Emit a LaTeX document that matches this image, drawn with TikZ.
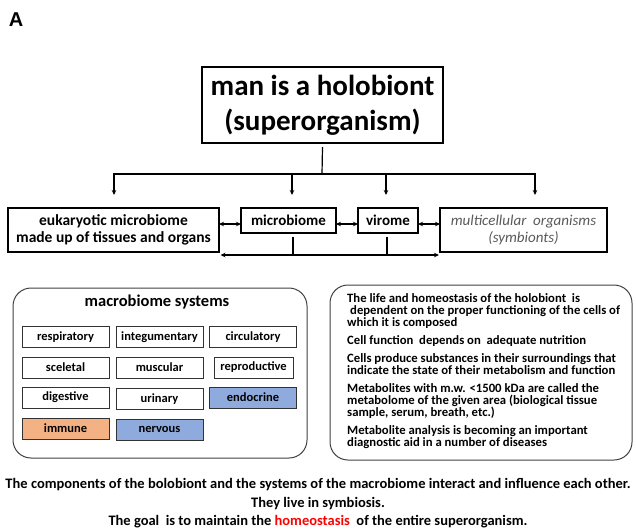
\documentclass[tikz,border=0pt]{standalone}
\usepackage{fontspec}
\setmainfont{Carlito}
\newfontfamily\panelfont{Liberation Sans}
\usetikzlibrary{arrows.meta}
\definecolor{sysblue}{HTML}{8FAADC}
\definecolor{sysorange}{HTML}{F4B183}
\newcommand{\arrowtip}{Stealth[length=5pt, width=4.5pt]}
\tikzstyle{box}=[draw, line width=1.8pt, inner sep=0, outer sep=0, align=center]
\tikzstyle{sysbox}=[draw=black!80, line width=1pt, minimum width=87pt, minimum height=21pt, inner sep=0,
                    font=\fontsize{12.5}{13}\selectfont\bfseries]
\tikzstyle{panel}=[draw=black!75, line width=1pt, rounded corners=18pt, inner sep=0]
\tikzstyle{link}=[line width=1.2pt]
\tikzstyle{arr}=[link, -{\arrowtip}]
\tikzstyle{biarr}=[link, {\arrowtip}-{\arrowtip}]

\begin{document}
\begin{tikzpicture}[x=1pt, y=-1pt]
        \useasboundingbox (0,0) rectangle (636,528);
        \node[font=\panelfont\fontsize{20}{20}\selectfont\bfseries] (panelA) at (16,20) {A};
        % holobiont and its components
        \node[box, line width=2pt, minimum width=241pt, minimum height=76pt,
              font=\fontsize{29}{35}\selectfont\bfseries] (holobiont) at (322.5,105) {man is a holobiont\\(superorganism)};
        \node[box, minimum width=211pt, minimum height=44pt,
              font=\fontsize{15.5}{17}\selectfont\bfseries] (eukaryotic) at (113.5,230) {eukaryotic microbiome\\made up of tissues and organs};
        \node[box, minimum width=95pt, minimum height=25pt,
              font=\fontsize{15}{17}\selectfont\bfseries] (microbiome) at (288.5,220.5) {microbiome};
        \node[box, minimum width=60pt, minimum height=25pt,
              font=\fontsize{15}{17}\selectfont\bfseries] (virome) at (388,220.5) {virome};
        \node[box, minimum width=167pt, minimum height=44pt, text=black!65,
              font=\fontsize{15}{17}\selectfont\itshape] (symbionts) at (523.5,230) {multicellular~~organisms\\(symbionts)};
        \coordinate (split) at (322,174);
        \coordinate (eukin) at (114,195);
        \coordinate (micin) at (292,195);
        \coordinate (virin) at (386,195);
        \coordinate (symin) at (535,195);
        \coordinate (pair) at (0,224);
        \coordinate (bus) at (0,255);
        \draw[link] ([yshift=-4pt]holobiont.south) -- (split);
        \draw[arr] (split) -| (eukin);
        \draw[arr] (split) -| (micin);
        \draw[arr] (split) -| (virin);
        \draw[arr] (split) -| (symin);
        \draw[biarr] (eukaryotic.east |- pair) -- (microbiome.west |- pair);
        \draw[biarr] (microbiome.east |- pair) -- (virome.west |- pair);
        \draw[biarr] (virome.east |- pair) -- (symbionts.west |- pair);
        \draw[biarr, shorten <=1.5pt, shorten >=1pt] (eukaryotic.east |- bus) -- (symbionts.west |- bus);
        \draw[link] ([xshift=4.5pt, yshift=-4pt]microbiome.south) -- ([xshift=4.5pt]microbiome.south |- bus);
        \draw[link] ([xshift=-1pt, yshift=-4pt]virome.south) -- ([xshift=-1pt]virome.south |- bus);
        % macrobiome systems
        \node[panel, minimum width=294pt, minimum height=170pt] (macro) at (160,373) {};
        \node[font=\fontsize{16.5}{18}\selectfont\bfseries] (macrotitle) at (157,302) {macrobiome systems};
        \node[sysbox] (resp) at (65.5,337) {respiratory};
        \node[sysbox] (integ) at (159.5,337) {integumentary};
        \node[sysbox] (circ) at (253,337) {circulatory};
        \node[sysbox] (skel) at (65.5,367.5) {sceletal};
        \node[sysbox] (musc) at (159.5,367.5) {muscular};
        \node[sysbox, minimum width=79pt] (repro) at (253.5,367.5) {reproductive};
        \node[sysbox] (dig) at (65.5,397.5) {digestive};
        \node[sysbox] (urin) at (159.5,399) {urinary};
        \node[sysbox, fill=sysblue] (endo) at (253,397.5) {endocrine};
        \node[sysbox, fill=sysorange] (immu) at (65.5,428.5) {immune};
        \node[sysbox, fill=sysblue] (nerv) at (159.5,429.5) {nervous};
        % cells and metabolome
        \node[panel, minimum width=302pt, minimum height=175pt] (cells) at (481,372.5) {};
        \node[anchor=north west, align=left, inner sep=0,
              font=\fontsize{12.7}{12}\selectfont\bfseries] (facts) at (347,293) {The life and homeostasis of the holobiont~ is\\
              \hspace{3pt}dependent on the proper functioning of the cells of\\
              which it is composed\\[6pt]
              Cell function~ depends on~ adequate nutrition\\[6pt]
              Cells produce substances in their surroundings that\\
              indicate the state of their metabolism and function\\[6pt]
              Metabolites with m.w. <1500 kDa are called the\\
              metabolome of the given area (biological tissue\\
              sample, serum, breath, etc.)\\[6pt]
              Metabolite analysis is becoming an important\\
              diagnostic aid in a number of diseases};
        \node[align=center, font=\fontsize{14.5}{18.5}\selectfont\bfseries] (summary) at (318,503.5) {The components of the bolobiont and the systems of the macrobiome interact and influence each other.\\
              They live in symbiosis.\\
              The goal~ is to maintain the \textcolor{red}{homeostasis}~ of the entire superorganism.};
    \end{tikzpicture}
\end{document}
